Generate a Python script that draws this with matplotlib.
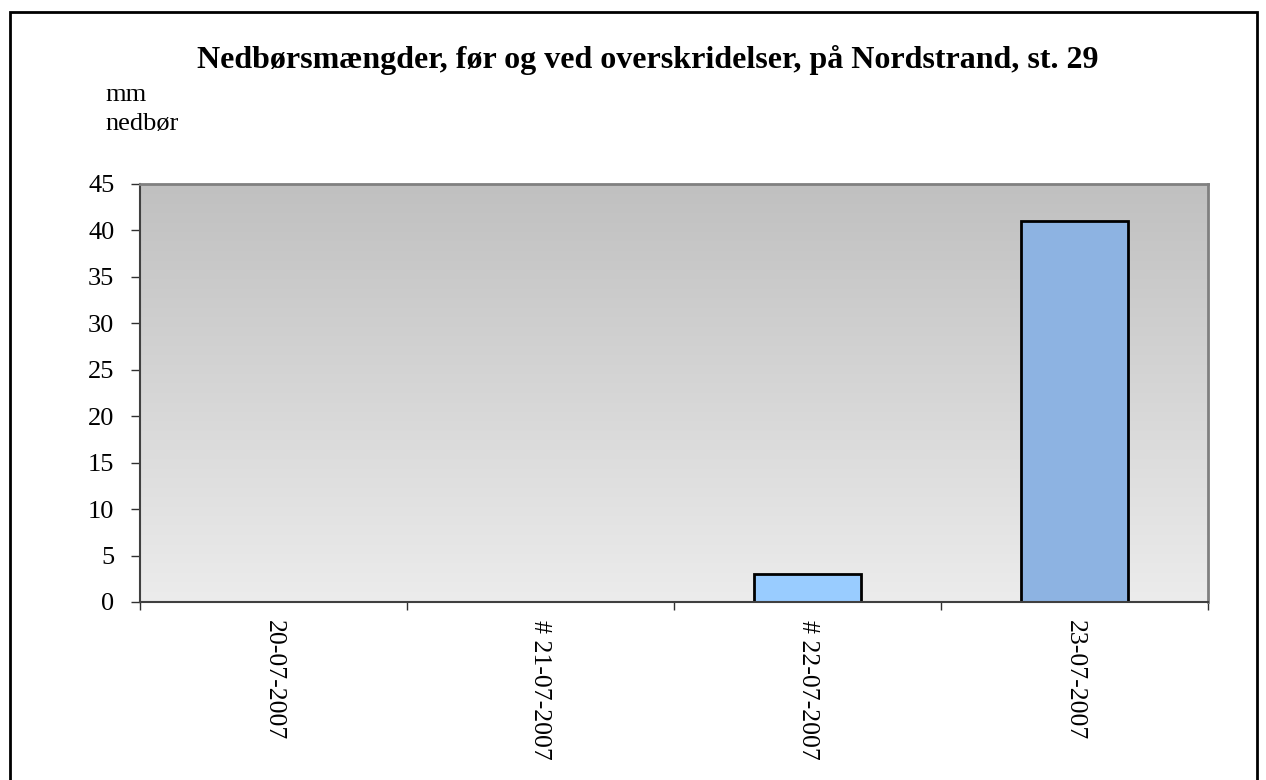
import numpy as np
import matplotlib
matplotlib.use("Agg")
import matplotlib.pyplot as plt
from matplotlib.colors import LinearSegmentedColormap
from matplotlib.patches import Rectangle

# data
dates = ["20-07-2007", "# 21-07-2007", "# 22-07-2007", "23-07-2007"]
rain_mm = [0, 0, 3, 41]
bar_colors = ["#99ccff", "#99ccff", "#99ccff", "#8db3e2"]

plt.rcParams["font.family"] = ["Liberation Serif", "DejaVu Serif"]

W, H = 1266, 780
fig = plt.figure(figsize=(W / 100, H / 100), dpi=100)

# outer frame of the chart
fig.patches.append(Rectangle((10 / W, -0.05), 1247 / W, 1.05 - 12 / H,
                             transform=fig.transFigure, fill=False,
                             edgecolor="black", linewidth=2))

ax = fig.add_axes([140 / W, 1 - 602 / H, 1068 / W, 418 / H])

x = np.arange(len(dates))
ax.set_xlim(-0.5, len(dates) - 0.5)
ax.set_ylim(0, 45)

# grey gradient in the plot area, dark on top
grad = LinearSegmentedColormap.from_list("g", ["#ececec", "#c0c0c0"])
ax.imshow(np.linspace(0, 1, 256).reshape(-1, 1), cmap=grad, origin="lower",
          extent=(-0.5, len(dates) - 0.5, 0, 45), aspect="auto", zorder=0)

ax.bar(x, rain_mm, width=0.4, color=bar_colors, edgecolor="black",
       linewidth=2, zorder=2)

ax.set_yticks(np.arange(0, 46, 5))
ax.set_xticks(x)
ax.set_xticklabels(dates, rotation=270, fontsize=18.5)
ax.set_xticks(np.arange(-0.5, len(dates), 1), minor=True)
ax.tick_params(axis="x", which="major", length=0, pad=13)
ax.tick_params(axis="x", which="minor", length=6, width=1, color="#303030")
ax.tick_params(axis="y", length=6.5, width=1, color="#303030", labelsize=19, pad=12)

for side in ["top", "right"]:
    ax.spines[side].set_color("#808080")
    ax.spines[side].set_linewidth(2)
for side in ["left", "bottom"]:
    ax.spines[side].set_color("#404040")
    ax.spines[side].set_linewidth(1.5)

fig.text(648 / W, 1 - 60 / H,
         "Nedbørsmængder, før og ved overskridelser, på Nordstrand, st. 29",
         ha="center", va="center", fontsize=23, fontweight="bold")
fig.text(105 / W, 1 - 101 / H, "mm", ha="left", va="baseline", fontsize=19)
fig.text(105 / W, 1 - 130 / H, "nedbør", ha="left", va="baseline", fontsize=19)

fig.savefig("out.png", dpi=100)
